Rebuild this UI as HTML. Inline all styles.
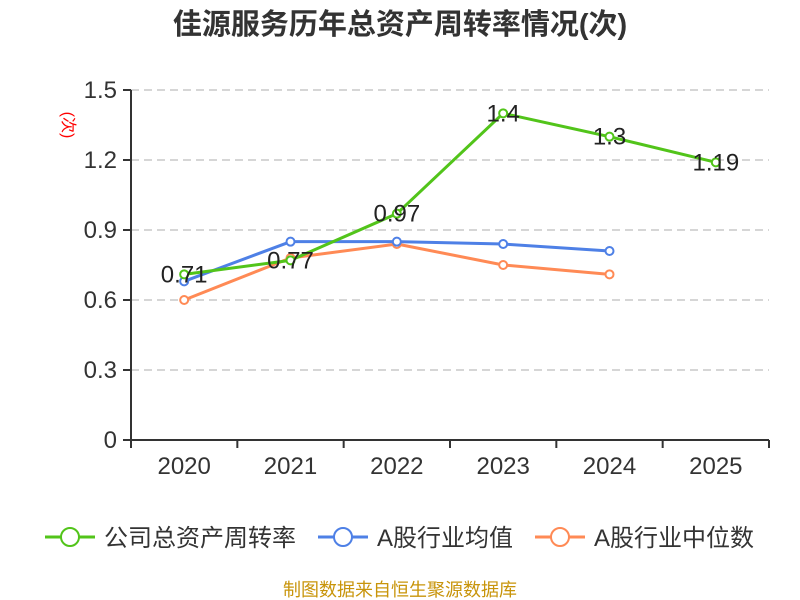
<!DOCTYPE html>
<html><head><meta charset="utf-8"><style>
html,body{margin:0;padding:0;background:#fff;}
svg{display:block;font-family:"Liberation Sans","Noto Sans CJK SC",sans-serif;}
</style></head><body>
<svg id="chart" width="800" height="600" viewBox="0 0 800 600">
<text x="400" y="34" text-anchor="middle" font-size="29" font-weight="bold" fill="#333">佳源服务历年总资产周转率情况(次)</text>
<text transform="translate(63,125) rotate(90)" text-anchor="middle" font-size="16" fill="#ff0000">(次)</text>
<g id="grid"></g><g id="axes"></g><g id="series"></g><g id="legend"></g>
<text x="400" y="596" text-anchor="middle" font-size="18" fill="#c8940a">制图数据来自恒生聚源数据库</text>
</svg>
<script>
const categories=["2020","2021","2022","2023","2024","2025"];
const companyValues=[0.71,0.77,0.97,1.4,1.3,1.19];
const companyLabels=["0.71","0.77","0.97","1.4","1.3","1.19"];
const meanValues=[0.68,0.85,0.85,0.84,0.81];
const medianValues=[0.60,0.78,0.84,0.75,0.71];
const yTicks=[0,0.3,0.6,0.9,1.2,1.5];
const yTickLabels=["0","0.3","0.6","0.9","1.2","1.5"];
const seriesNames=["公司总资产周转率","A股行业均值","A股行业中位数"];
const seriesColors=["#52c41a","#4e80e6","#ff8a55"];

const NS="http://www.w3.org/2000/svg";
const x0=131,x1=769,y0=440,yTop=90,yMax=1.5;
const bw=(x1-x0)/categories.length;
const xs=i=>x0+bw*(i+0.5);
const ys=v=>y0-(v/yMax)*(y0-yTop);
function mk(tag,attrs,parent,text){const e=document.createElementNS(NS,tag);for(const k in attrs)e.setAttribute(k,attrs[k]);if(text!==undefined)e.textContent=text;parent.appendChild(e);return e;}
const grid=document.getElementById('grid'),axes=document.getElementById('axes'),ser=document.getElementById('series'),leg=document.getElementById('legend');

yTicks.forEach((t,i)=>{
  const y=ys(t);
  if(t>0){const g=mk('line',{x1:x0,x2:x1,y1:y,y2:y,stroke:'#c8c8c8','stroke-dasharray':'8,5','stroke-width':1.5},grid);
  
  }
  const tk=mk('line',{x1:x0-8,x2:x0,y1:y,y2:y,stroke:'#333','stroke-width':2},axes);
  
  
  const l=mk('text',{x:x0-14,y:y+8,'text-anchor':'end','font-size':24,fill:'#333'},axes,yTickLabels[i]);
  
  
});
const ya=mk('line',{x1:x0,x2:x0,y1:yTop,y2:y0,stroke:'#333','stroke-width':2},axes);


const xa=mk('line',{x1:x0,x2:x1,y1:y0,y2:y0,stroke:'#333','stroke-width':2},axes);


for(let i=0;i<=categories.length;i++){
  const t=mk('line',{x1:x0+bw*i,x2:x0+bw*i,y1:y0,y2:y0+8,stroke:'#333','stroke-width':2},axes);
  
  
}
categories.forEach((c,i)=>{
  const l=mk('text',{x:xs(i),y:474,'text-anchor':'middle','font-size':24,fill:'#333'},axes,c);
  
  
});

function drawSeries(vals,color,name){
  const g=mk('g',{},ser);
  
  
  const pts=vals.map((v,i)=>xs(i)+','+ys(v)).join(' ');
  const pl=mk('polyline',{points:pts,fill:'none',stroke:color,'stroke-width':3,'stroke-linejoin':'round'},g);
  
  
  vals.forEach((v,i)=>{
    const c=mk('circle',{cx:xs(i),cy:ys(v),r:4,fill:'#fff',stroke:color,'stroke-width':2},g);
    
    
  });
}
drawSeries(medianValues,seriesColors[2],'industry-median');
drawSeries(meanValues,seriesColors[1],'industry-mean');
drawSeries(companyValues,seriesColors[0],'company-turnover');
companyValues.forEach((v,i)=>{
  const t=mk('text',{x:xs(i),y:ys(v)+8,'text-anchor':'middle','font-size':24,fill:'#222'},ser,companyLabels[i]);
  
  
});

const legX=[45,318,535];
seriesNames.forEach((n,i)=>{
  const g=mk('g',{},leg);
  
  
  mk('line',{x1:legX[i],x2:legX[i]+50,y1:537,y2:537,stroke:seriesColors[i],'stroke-width':3},g);
  mk('circle',{cx:legX[i]+25,cy:537,r:9,fill:'#fff',stroke:seriesColors[i],'stroke-width':2},g);
  mk('text',{x:legX[i]+59,y:546,'font-size':24,fill:'#333'},g,n);
});
</script>
</body></html>
